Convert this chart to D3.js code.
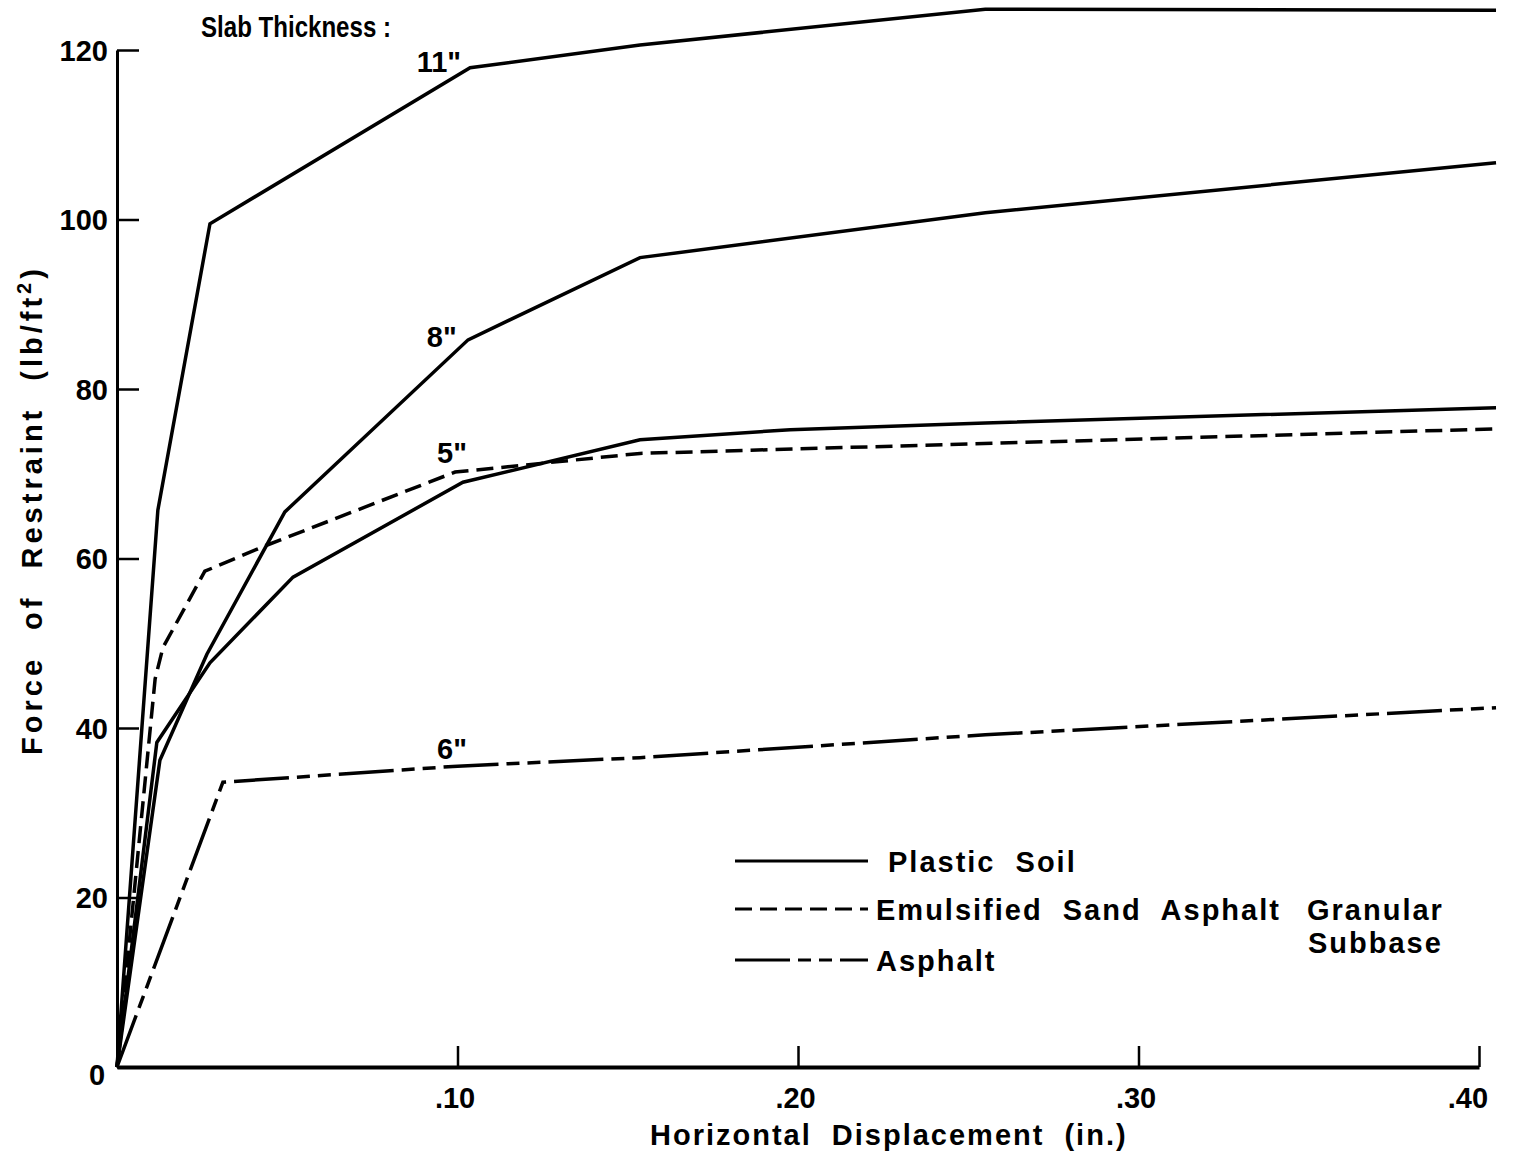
<!DOCTYPE html>
<html lang="en">
<head>
    <meta charset="UTF-8">
    <title>Force of Restraint vs Horizontal Displacement</title>
    <script src="https://d3js.org/d3.v7.min.js"></script>
    <style>
        body {
            margin: 0;
            background: #fff;
        }
        text {
            font-family: "Liberation Sans", Arial, sans-serif;
            font-weight: bold;
            font-size: 29px;
            fill: #000;
        }
        .axis path,
        .axis line {
            fill: none;
            stroke: #000;
        }
        .curve {
            fill: none;
            stroke: #000;
            stroke-width: 3.5px;
            stroke-linejoin: miter;
        }
    </style>
</head>
<body>
<script>
    // values: [displacement (in.), force (lb/ft2)]
    var plastic11 = [[0, 0], [0.012, 65.7], [0.0273, 99.5], [0.1037, 117.9], [0.1536, 120.6], [0.255, 124.8], [0.405, 124.7]];
    var plastic8 = [[0, 0], [0.0126, 36.2], [0.0264, 48.7], [0.0493, 65.5], [0.1031, 85.8], [0.1536, 95.5], [0.255, 100.8], [0.405, 106.7]];
    var plastic5 = [[0, 0], [0.0117, 38.3], [0.0273, 47.7], [0.0517, 57.8], [0.1016, 69.0], [0.1536, 74.0], [0.1977, 75.2], [0.255, 76.0], [0.405, 77.8]];
    var emulsified5 = [[0, 0], [0.0112, 45.8], [0.0135, 49.5], [0.0258, 58.5], [0.0429, 61.4], [0.0993, 70.2], [0.1536, 72.4], [0.405, 75.3]];
    var asphalt6 = [[0, 0], [0.0311, 33.6], [0.1, 35.5], [0.1536, 36.5], [0.255, 39.2], [0.405, 42.4]];

    var xTicks = [0.1, 0.2, 0.3, 0.4];
    var xTickLabels = [".10", ".20", ".30", ".40"];
    var yTicks = [0, 20, 40, 60, 80, 100, 120];

    // thickness labels: where they sit on the plot, in data units
    var thicknessLabels = [
        {text: "11\"", x: 0.088, y: 117.4},
        {text: "8\"", x: 0.091, y: 85.0},
        {text: "5\"", x: 0.094, y: 71.3},
        {text: "6\"", x: 0.094, y: 36.4}
    ];

    var legendItems = [
        {name: "Plastic Soil", dash: null},
        {name: "Emulsified Sand Asphalt", dash: "17,8"},
        {name: "Asphalt", dash: "55,8,13,8,13,8"}
    ];

    var width = 1513, height = 1153;

    var x = d3.scaleLinear().domain([0, 0.4]).range([117, 1479]);
    var y = d3.scaleLinear().domain([0, 120]).range([1067, 50]);

    var svg = d3.select("body").append("svg")
            .attr("width", width)
            .attr("height", height);

    // y axis, ticks pointing into the plot
    var yAxis = d3.axisLeft(y)
            .tickValues(yTicks)
            .tickSizeInner(-22)
            .tickSizeOuter(0)
            .tickPadding(9)
            .tickFormat(d3.format("d"));

    var gy = svg.append("g")
            .attr("class", "axis")
            .attr("transform", "translate(" + x(0) + ",0)")
            .call(yAxis);
    gy.select(".domain").attr("stroke-width", 3);
    gy.selectAll(".tick line").attr("stroke-width", 2.5);
    gy.selectAll(".tick text").attr("dy", "0.36em");
    gy.selectAll(".tick").filter(function (d) { return d === 0; })
            .select("text").attr("dy", "0.6em").attr("dx", "-0.1em");
    gy.attr("font-family", null).attr("font-size", null);

    // x axis
    var xAxis = d3.axisBottom(x)
            .tickValues(xTicks)
            .tickSizeInner(-21)
            .tickSizeOuter(0)
            .tickPadding(20)
            .tickFormat(function (d, i) { return xTickLabels[i]; });

    var gx = svg.append("g")
            .attr("class", "axis")
            .attr("transform", "translate(0," + y(0) + ")")
            .call(xAxis);
    gx.select(".domain").attr("stroke-width", 4);
    gx.selectAll(".tick line").attr("stroke-width", 2.5);
    gx.attr("font-family", null).attr("font-size", null);
    gx.selectAll(".tick text").attr("dx", function (d) { return d === 0.4 ? "-0.4em" : "-0.1em"; });

    // curves
    var line = d3.line()
            .x(function (d) { return x(d[0]); })
            .y(function (d) { return y(d[1]); });

    var curves = [
        {data: plastic11, dash: null, w: 4},
        {data: plastic8, dash: null, w: 3.5},
        {data: plastic5, dash: null, w: 3.5},
        {data: emulsified5, dash: legendItems[1].dash, w: 3.5},
        {data: asphalt6, dash: legendItems[2].dash, w: 3.5}
    ];

    svg.selectAll(".curve")
            .data(curves)
            .enter().append("path")
            .attr("class", "curve")
            .attr("d", function (d) { return line(d.data); })
            .attr("stroke-width", function (d) { return d.w; })
            .attr("stroke-dasharray", function (d) { return d.dash; });

    // slab thickness labels
    svg.append("text")
            .attr("x", 201)
            .attr("y", 37)
            .attr("textLength", 190)
            .attr("lengthAdjust", "spacingAndGlyphs")
            .text("Slab Thickness :");

    svg.selectAll(".thick")
            .data(thicknessLabels)
            .enter().append("text")
            .attr("class", "thick")
            .attr("x", function (d) { return x(d.x); })
            .attr("y", function (d) { return y(d.y); })
            .text(function (d) { return d.text; });

    // legend
    var legend = svg.append("g")
            .attr("transform", "translate(735,861)");

    var item = legend.selectAll(".item")
            .data(legendItems)
            .enter().append("g")
            .attr("class", "item")
            .attr("transform", function (d, i) { return "translate(0," + [0, 48, 99][i] + ")"; });

    item.append("line")
            .attr("x1", 0)
            .attr("x2", 133)
            .attr("stroke", "#000")
            .attr("stroke-width", 3)
            .attr("stroke-dasharray", function (d) { return d.dash; });

    item.append("text")
            .attr("x", function (d, i) { return i === 0 ? 153 : 141; })
            .attr("y", 11)
            .style("letter-spacing", "2px")
            .style("word-spacing", "10px")
            .text(function (d) { return d.name; });

    legend.append("text")
            .attr("x", 572)
            .attr("y", 59)
            .style("letter-spacing", "2px")
            .text("Granular");
    legend.append("text")
            .attr("x", 573)
            .attr("y", 92)
            .style("letter-spacing", "2px")
            .text("Subbase");

    // axis titles
    svg.append("text")
            .attr("x", 650)
            .attr("y", 1145)
            .style("letter-spacing", "2px")
            .style("word-spacing", "10px")
            .text("Horizontal Displacement (in.)");

    var yTitle = svg.append("text")
            .attr("transform", "translate(42,510) rotate(-90)")
            .attr("text-anchor", "middle")
            .style("letter-spacing", "4px")
            .style("word-spacing", "14px");
    yTitle.append("tspan").text("Force of Restraint (lb/ft");
    yTitle.append("tspan")
            .attr("baseline-shift", "super")
            .style("font-size", "20px")
            .text("2");
    yTitle.append("tspan").text(")");
</script>
</body>
</html>
